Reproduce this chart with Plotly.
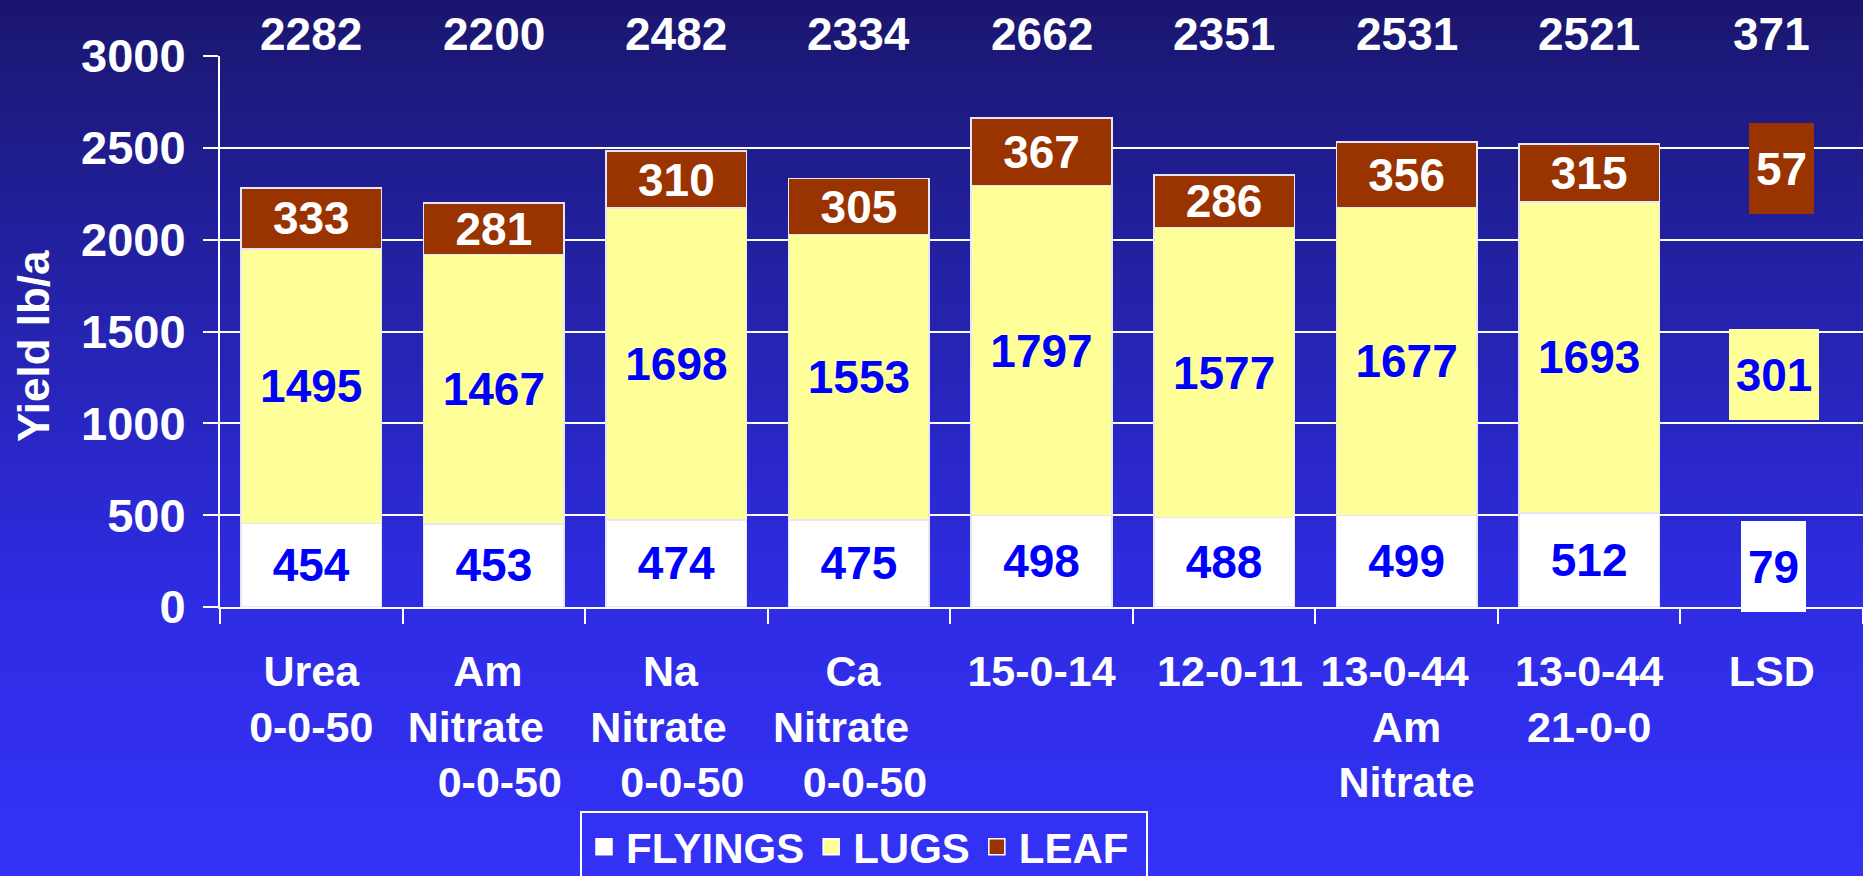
import base64
import struct
import zlib

import plotly.graph_objects as go

# ---------------- data ----------------
categories = ["Urea 0-0-50", "Am Nitrate 0-0-50", "Na Nitrate 0-0-50", "Ca Nitrate 0-0-50",
              "15-0-14", "12-0-11", "13-0-44 Am Nitrate", "13-0-44 21-0-0", "LSD"]
tick_labels = ["Urea<br>0-0-50",
               "Am\u00a0<br>Nitrate\u00a0\u00a0\u00a0<br>\u00a00-0-50",
               "Na\u00a0<br>Nitrate\u00a0\u00a0\u00a0<br>\u00a00-0-50",
               "Ca\u00a0<br>Nitrate\u00a0\u00a0\u00a0<br>\u00a00-0-50",
               "15-0-14", "\u00a012-0-11", "13-0-44\u00a0\u00a0<br>Am<br>Nitrate",
               "13-0-44<br>21-0-0", "LSD"]
treatments = categories[:8]
flyings = [454, 453, 474, 475, 498, 488, 499, 512]
lugs = [1495, 1467, 1698, 1553, 1797, 1577, 1677, 1693]
leaf = [333, 281, 310, 305, 367, 286, 356, 315]
totals = [2282, 2200, 2482, 2334, 2662, 2351, 2531, 2521, 371]
lsd_flyings, lsd_lugs, lsd_leaf = 79, 301, 57
y_ticks = [0, 500, 1000, 1500, 2000, 2500, 3000]
y_title = "Yield lb/a"

# ---------------- style ----------------
W, H = 1863, 876
ML, MR, MT, MB = 220, 0, 56, 269
PW, PH = W - ML - MR, H - MT - MB
FONT = "Liberation Sans, Arial, sans-serif"
WHITE = "#FFFFFF"
YELLOW = "#FFFF99"
BROWN = "#993300"
BLUE = "#0000FF"


def gradient_png(h, stops):
    def col(y):
        for (y0, c0), (y1, c1) in zip(stops[:-1], stops[1:]):
            if y0 <= y <= y1:
                t = (y - y0) / (y1 - y0)
                return bytes(int(round(a + (b - a) * t)) for a, b in zip(c0, c1))
        return bytes(stops[-1][1])
    raw = b"".join(b"\x00" + col(y) for y in range(h))

    def chunk(tag, data):
        return (struct.pack(">I", len(data)) + tag + data
                + struct.pack(">I", zlib.crc32(tag + data) & 0xFFFFFFFF))
    png = (b"\x89PNG\r\n\x1a\n"
           + chunk(b"IHDR", struct.pack(">IIBBBBB", 1, h, 8, 2, 0, 0, 0))
           + chunk(b"IDAT", zlib.compress(raw))
           + chunk(b"IEND", b""))
    return "data:image/png;base64," + base64.b64encode(png).decode()


bg = gradient_png(H, [(0, (26, 22, 110)), (290, (36, 34, 168)),
                      (600, (46, 44, 228)), (H - 1, (52, 50, 246))])

fig = go.Figure()

bar_line = dict(color="#E6E6F5", width=1.5)
for name, vals, color, tcolor in [("FLYINGS", flyings, WHITE, BLUE),
                                  ("LUGS", lugs, YELLOW, BLUE),
                                  ("LEAF", leaf, BROWN, WHITE)]:
    fig.add_trace(go.Bar(
        x=treatments, y=vals, name=name, showlegend=False,
        marker=dict(color=color, line=bar_line),
        text=vals, textposition="inside", insidetextanchor="middle",
        textangle=0, constraintext="none",
        textfont=dict(family=FONT, size=46, color=tcolor, weight="bold"),
        hoverinfo="x+y+name",
    ))

# legend-only entries (square markers)
for name, color in [("FLYINGS", WHITE), ("LUGS", YELLOW), ("LEAF\u00a0", BROWN)]:
    fig.add_trace(go.Scatter(
        x=[None], y=[None], mode="markers", name=name,
        marker=dict(symbol="square", size=20, color=color,
                    line=dict(color=WHITE, width=1.5)),
    ))

annotations = []
# totals above plot
for cat, tot in zip(categories, totals):
    annotations.append(dict(
        x=cat, y=3000, xref="x", yref="y", yshift=22, text=str(tot),
        showarrow=False, xanchor="center", yanchor="middle",
        font=dict(family=FONT, size=46, color=WHITE, weight="bold")))

# LSD labels with filled boxes
for val, ypos, fill, tcol, bw, xs in [(lsd_flyings, 221, WHITE, BLUE, 65, 2),
                                      (lsd_lugs, 1268, YELLOW, BLUE, 90, 2),
                                      (lsd_leaf, 2386, BROWN, WHITE, 65, 10)]:
    annotations.append(dict(
        x="LSD", y=ypos, xref="x", yref="y", xshift=xs, text=str(val),
        showarrow=False, xanchor="center", yanchor="middle",
        bgcolor=fill, width=bw, height=91, borderpad=0, borderwidth=0,
        font=dict(family=FONT, size=46, color=tcol, weight="bold")))

# y-axis title
annotations.append(dict(
    x=(33 - ML) / PW, y=(PH + MT - 346) / PH, xref="paper", yref="paper",
    text=y_title, textangle=-90, showarrow=False,
    xanchor="center", yanchor="middle",
    font=dict(family=FONT, size=44, color=WHITE, weight="bold")))

fig.update_layout(
    width=W, height=H, autosize=False,
    margin=dict(l=ML, r=MR, t=MT, b=MB, pad=0, autoexpand=False),
    paper_bgcolor="rgb(46,44,228)",
    plot_bgcolor="rgba(0,0,0,0)",
    barmode="stack", bargap=0.23,
    font=dict(family=FONT, color=WHITE),
    images=[dict(source=bg, xref="paper", yref="paper",
                 x=-ML / PW, y=1 + MT / PH, sizex=W / PW, sizey=H / PH,
                 xanchor="left", yanchor="top", sizing="stretch", layer="below")],
    annotations=annotations,
    showlegend=True,
    legend=dict(orientation="h", x=(864 - ML) / PW, y=(PH + MT - 811) / PH,
                xanchor="center", yanchor="top",
                bgcolor="rgba(0,0,0,0)", bordercolor=WHITE, borderwidth=2,
                font=dict(family=FONT, size=42, color=WHITE, weight="bold"),
                itemsizing="trace", itemwidth=34, traceorder="normal"),
    xaxis=dict(
        type="category", categoryorder="array", categoryarray=categories,
        range=[-0.5, len(categories) - 0.5],
        tickmode="array", tickvals=categories, ticktext=tick_labels,
        tickson="boundaries", ticks="outside", ticklen=15, tickwidth=2,
        tickcolor=WHITE, showline=True, linecolor=WHITE, linewidth=2,
        showgrid=False, zeroline=False, ticklabelstandoff=25,
        tickfont=dict(family=FONT, size=43, color=WHITE, weight="bold"),
    ),
    yaxis=dict(
        range=[0, 3000], tickmode="array", tickvals=y_ticks,
        ticks="outside", ticklen=15, tickwidth=2, tickcolor=WHITE,
        showline=True, linecolor=WHITE, linewidth=2,
        showgrid=True, gridcolor=WHITE, gridwidth=2, zeroline=False,
        ticklabelstandoff=8,
        tickfont=dict(family=FONT, size=47, color=WHITE, weight="bold"),
    ),
)

fig.write_html("out.html",
               config={"displayModeBar": False},
               post_script="document.body.style.margin='0';"
                           "document.body.style.overflow='hidden';")
